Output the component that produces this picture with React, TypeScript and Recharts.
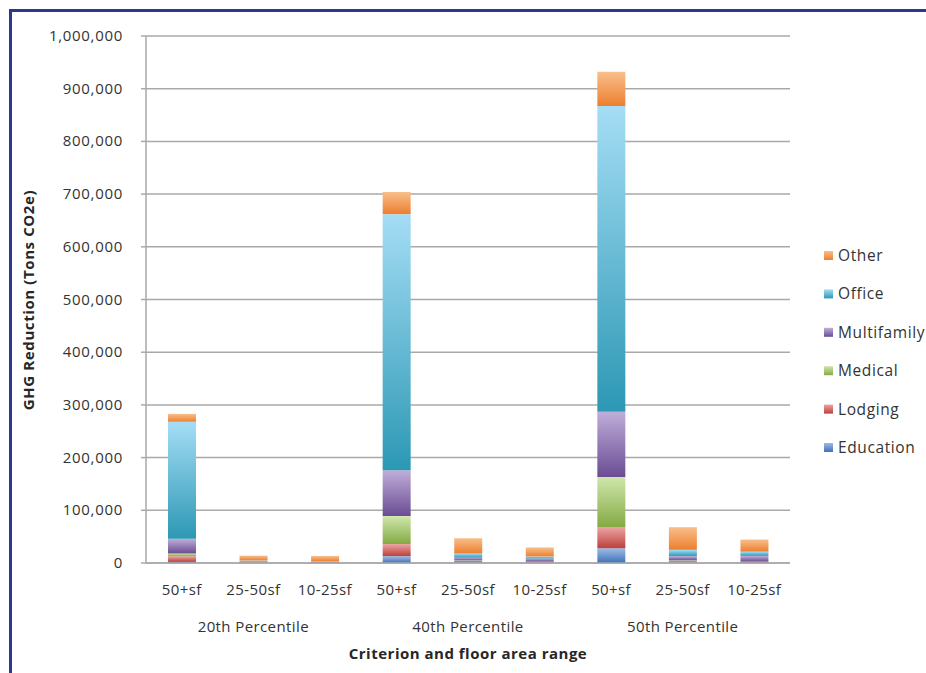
import React from 'react';
import { BarChart, Bar, XAxis, YAxis, CartesianGrid } from 'recharts';

// Floor-area ranges, three per percentile criterion
const CATEGORIES = ['50+sf', '25-50sf', '10-25sf', '50+sf', '25-50sf', '10-25sf', '50+sf', '25-50sf', '10-25sf'];
const GROUPS = ['20th Percentile', '40th Percentile', '50th Percentile'];
const Y_TICKS = [0, 100000, 200000, 300000, 400000, 500000, 600000, 700000, 800000, 900000, 1000000];

// GHG reduction by building type (tons CO2e)
const EDUCATION = [2000, 500, 300, 13000, 2000, 1000, 28000, 1000, 1000];
const LODGING = [11000, 500, 300, 23000, 2000, 1000, 40000, 3000, 1000];
const MEDICAL = [5000, 300, 200, 53000, 1000, 500, 95000, 1000, 500];
const MULTIFAMILY = [28000, 1500, 2000, 87000, 5000, 6000, 124000, 8000, 11000];
const OFFICE = [222000, 2000, 500, 486000, 8000, 4000, 580000, 12000, 8000];
const OTHER = [15000, 9000, 10000, 42000, 29000, 17000, 65000, 43000, 23000];

const SERIES = [
  { name: 'Education', values: EDUCATION, light: '#9cbbe6', dark: '#3f72b8' },
  { name: 'Lodging', values: LODGING, light: '#eba5a3', dark: '#bd3f3c' },
  { name: 'Medical', values: MEDICAL, light: '#cfe6ab', dark: '#84aa43' },
  { name: 'Multifamily', values: MULTIFAMILY, light: '#bfaed9', dark: '#6a4c94' },
  { name: 'Office', values: OFFICE, light: '#a5ddf5', dark: '#2c98b4' },
  { name: 'Other', values: OTHER, light: '#f9bf8c', dark: '#ec7f2e' },
];

const rows = CATEGORIES.map((label, i) => {
  const row: Record<string, string | number> = { label, group: GROUPS[Math.floor(i / 3)] };
  SERIES.forEach((s) => {
    row[s.name] = s.values[i];
  });
  return row;
});

const FONT = '"Open Sans", sans-serif';
const TEXT = '#333333';
const GRID = '#a9a9a9';

const fmt = (v: number) => v.toLocaleString('en-US');

const CategoryTick = (props: any) => {
  const { x, y, payload } = props;
  return (
    <text x={x} y={y + 32} textAnchor="middle" fontFamily={FONT} fontSize={15} fill={TEXT} letterSpacing={0.4}>
      {payload.value}
    </text>
  );
};

const GroupTick = (props: any) => {
  const { x, y, index } = props;
  if (index % 3 !== 1) return null;
  return (
    <text x={x} y={y + 19} textAnchor="middle" fontFamily={FONT} fontSize={15} fill={TEXT} letterSpacing={0.4}>
      {GROUPS[Math.floor(index / 3)]}
    </text>
  );
};

const YTick = (props: any) => {
  const { x, y, payload } = props;
  return (
    <text x={x} y={y + 5} textAnchor="end" fontFamily={FONT} fontSize={15} fill={TEXT} letterSpacing={0.7}>
      {fmt(payload.value)}
    </text>
  );
};

const YTitle = () => (
  <text
    x={34}
    y={300}
    transform="rotate(-90 34 300)"
    textAnchor="middle"
    fontFamily={FONT}
    fontSize={15}
    fontWeight="bold"
    letterSpacing={0.6}
    fill="#262626"
  >
    GHG Reduction (Tons CO2e)
  </text>
);

const XTitle = () => (
  <text x={468} y={659} textAnchor="middle" fontFamily={FONT} fontSize={15} fontWeight="bold" letterSpacing={0.5} fill="#262626">
    Criterion and floor area range
  </text>
);

const LEGEND_ORDER = [...SERIES].reverse();

export default function App() {
  return (
    <div style={{ position: 'absolute', left: 0, top: 0, width: 926, height: 673, background: '#fff', overflow: 'hidden' }}>
      <div
        style={{
          position: 'absolute',
          left: 9,
          top: 9,
          width: 940,
          height: 700,
          borderLeft: '3px solid #2e3690',
          borderTop: '3px solid #2e3690',
        }}
      />
      <BarChart
        width={926}
        height={673}
        data={rows}
        margin={{ top: 36, right: 136, bottom: 0, left: 0 }}
        barCategoryGap={0}
        style={{ position: 'absolute', left: 0, top: 0 }}
      >
        <defs>
          {SERIES.map((s) => (
            <linearGradient key={s.name} id={`grad-${s.name}`} x1="0" y1="0" x2="0" y2="1">
              <stop offset="0%" stopColor={s.light} />
              <stop offset="100%" stopColor={s.dark} />
            </linearGradient>
          ))}
        </defs>
        <CartesianGrid vertical={false} stroke={GRID} strokeWidth={1.5} />
        <XAxis
          dataKey="label"
          height={50}
          tickSize={0}
          tickMargin={0}
          tick={<CategoryTick />}
          interval={0}
          axisLine={{ stroke: GRID, strokeWidth: 1.5 }}
          tickLine={false}
        />
        <XAxis
          xAxisId="group"
          dataKey="label"
          height={60}
          tickSize={0}
          tickMargin={0}
          tick={<GroupTick />}
          interval={0}
          axisLine={false}
          tickLine={false}
          label={{ content: () => <XTitle /> }}
        />
        <YAxis
          width={146}
          domain={[0, 1000000]}
          ticks={Y_TICKS}
          tickSize={5}
          tickMargin={18}
          tick={<YTick />}
          axisLine={{ stroke: GRID, strokeWidth: 1.5 }}
          tickLine={{ stroke: GRID, strokeWidth: 1.5 }}
          interval={0}
          label={{ content: () => <YTitle /> }}
        />
        <YAxis
          yAxisId="right"
          orientation="right"
          width={0}
          domain={[0, 1000000]}
          tick={false}
          tickLine={false}
          axisLine={{ stroke: GRID, strokeWidth: 1.5 }}
        />
        {SERIES.map((s) => (
          <Bar
            key={s.name}
            dataKey={s.name}
            stackId="ghg"
            barSize={28}
            fill={`url(#grad-${s.name})`}
            isAnimationActive={false}
          />
        ))}
      </BarChart>
      <svg width={120} height={230} style={{ position: 'absolute', left: 816, top: 236 }}>
        <defs>
          {LEGEND_ORDER.map((s) => (
            <linearGradient key={s.name} id={`leg-${s.name}`} x1="0" y1="0" x2="0" y2="1">
              <stop offset="0%" stopColor={s.light} />
              <stop offset="100%" stopColor={s.dark} />
            </linearGradient>
          ))}
        </defs>
        {LEGEND_ORDER.map((s, i) => {
          const cy = 20 + i * 38.4;
          return (
            <g key={s.name}>
              <rect x={8} y={cy - 5} width={9} height={9} fill={`url(#leg-${s.name})`} />
              <text x={22} y={cy + 5} fontFamily={FONT} fontSize={15.5} fill={TEXT} letterSpacing={0.6}>
                {s.name}
              </text>
            </g>
          );
        })}
      </svg>
    </div>
  );
}
